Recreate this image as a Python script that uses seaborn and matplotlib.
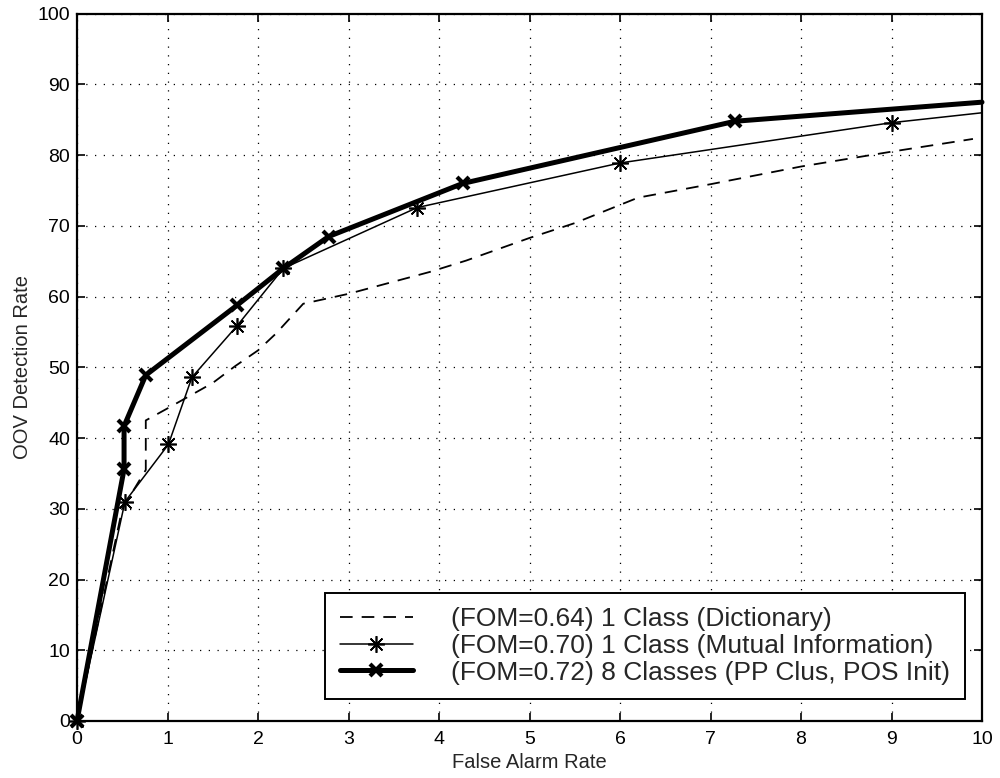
import matplotlib
matplotlib.use("Agg")
import matplotlib.pyplot as plt
import seaborn as sns
import pandas as pd

# ROC-style curves: OOV detection rate vs false alarm rate
dict_x = [0, 0.50, 0.76, 0.76, 1.0, 1.5, 1.75, 2.0, 2.2, 2.5, 3.0, 3.9, 4.3,
          5.0, 5.5, 6.2, 7.0, 8.0, 9.0, 9.9]
dict_y = [0, 30.0, 35.5, 42.5, 44.2, 47.8, 50.2, 52.4, 54.8, 59.0, 60.4, 63.5,
          65.1, 68.3, 70.4, 74.0, 75.9, 78.4, 80.5, 82.3]

mi_x = [0, 0.53, 1.01, 1.27, 1.77, 2.28, 3.76, 6.0, 9.0, 10.0]
mi_y = [0, 31.0, 39.1, 48.6, 55.9, 64.0, 72.6, 78.9, 84.6, 86.0]

pp_x = [0, 0.52, 0.52, 0.76, 1.77, 2.28, 2.78, 4.26, 7.27, 10.0]
pp_y = [0, 35.6, 41.7, 48.9, 58.8, 64.0, 68.5, 76.0, 84.8, 87.5]

labels = [
    "(FOM=0.64) 1 Class (Dictionary)",
    "(FOM=0.70) 1 Class (Mutual Information)",
    "(FOM=0.72) 8 Classes (PP Clus, POS Init)",
]

x_ticks = list(range(0, 11))
y_ticks = list(range(0, 101, 10))

sns.set_style("ticks")
plt.rcParams["font.family"] = ["Liberation Sans", "DejaVu Sans"]

fig = plt.figure(figsize=(10, 7.78), dpi=100)
ax = fig.add_axes([0.077, 0.0733, 0.905, 0.909])

df_dict = pd.DataFrame({"x": dict_x, "y": dict_y})
df_mi = pd.DataFrame({"x": mi_x, "y": mi_y})
df_pp = pd.DataFrame({"x": pp_x, "y": pp_y})

sns.lineplot(data=df_dict, x="x", y="y", ax=ax, estimator=None, sort=False,
             color="black", linewidth=1.3, label=labels[0],
             linestyle=(0, (7, 5)), clip_on=False)
sns.lineplot(data=df_mi, x="x", y="y", ax=ax, estimator=None, sort=False,
             color="black", linewidth=1.1, label=labels[1],
             marker=(8, 2, 0), markersize=12, markeredgewidth=1.2,
             markeredgecolor="black", markerfacecolor="black",
             markevery=list(range(len(mi_x) - 1)), clip_on=False)
sns.lineplot(data=df_pp, x="x", y="y", ax=ax, estimator=None, sort=False,
             color="black", linewidth=3.6, label=labels[2],
             marker="x", markersize=8, markeredgewidth=3.0,
             markeredgecolor="black", markerfacecolor="black",
             markevery=list(range(len(pp_x) - 1)), clip_on=False)

ax.set_xlim(0, 10)
ax.set_ylim(0, 100)
ax.set_xticks(x_ticks)
ax.set_yticks(y_ticks)
ax.set_xticklabels([str(v) for v in x_ticks])
ax.set_yticklabels([str(v) for v in y_ticks])

ax.grid(True, color="black", linewidth=0.9, linestyle=(0, (1, 6)))
ax.set_axisbelow(True)

for side in ["top", "right", "bottom", "left"]:
    ax.spines[side].set_visible(True)
    ax.spines[side].set_color("black")
    ax.spines[side].set_linewidth(1.6)

ax.tick_params(axis="both", which="both", direction="in", length=6, width=1.2,
               top=True, right=True, labelsize=14, colors="black")
ax.tick_params(axis="x", pad=7.5)
ax.tick_params(axis="y", pad=5)

ax.set_xlabel("False Alarm Rate", fontsize=14.5, labelpad=3)
ax.set_ylabel("OOV Detection Rate", fontsize=14.5, labelpad=4)

leg = ax.legend(loc="lower right", bbox_to_anchor=(0.981, 0.031),
                fontsize=19, frameon=True, fancybox=False, shadow=False,
                handlelength=2.77, handletextpad=1.46, labelspacing=0.1,
                borderpad=0.55, borderaxespad=0.0, numpoints=1)
frame = leg.get_frame()
frame.set_edgecolor("black")
frame.set_linewidth(1.4)
frame.set_facecolor("white")
frame.set_alpha(1.0)

fig.savefig("out.png", dpi=100)
